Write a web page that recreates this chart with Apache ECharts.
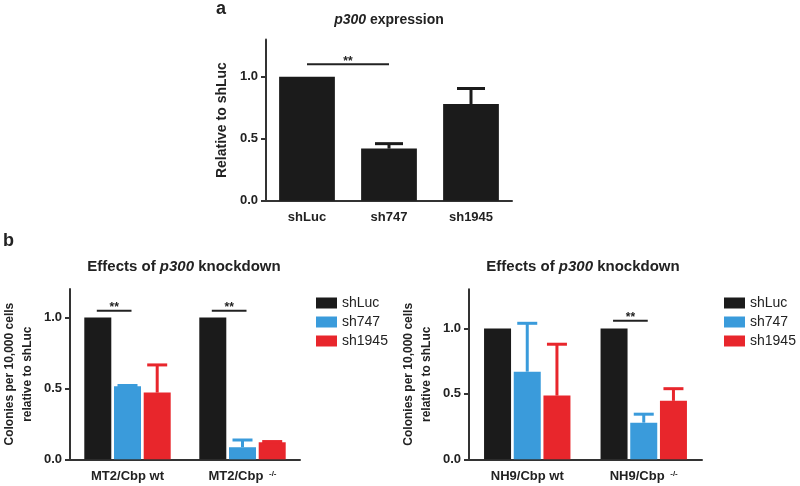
<!DOCTYPE html>
<html><head><meta charset="utf-8">
<script src="https://cdn.jsdelivr.net/npm/echarts@6/dist/echarts.min.js"></script>
<style>html,body{margin:0;padding:0;background:#fff}#c{width:800px;height:486px}</style>
</head><body><div id="c"></div>
<script>
// ---------- data ----------
const seriesNames = ['shLuc', 'sh747', 'sh1945'];

const aCategories = ['shLuc', 'sh747', 'sh1945'];
const aValues = [1.0, 0.42, 0.78];
const aErrTop = [null, 0.46, 0.905];
const aSig = [[0, 1, 1.1]];

const bLeftCategories = ['MT2/Cbp wt', 'MT2/Cbp -/-'];
const bLeftShLuc = [1.0, 1.0];
const bLeftSh747 = [0.515, 0.085];
const bLeftSh1945 = [0.47, 0.12];
const bLeftErr747 = [0.52, 0.136];
const bLeftErr1945 = [0.665, 0.125];
const bLeftSig = [[0, 1.047], [1, 1.047]];

const bRightCategories = ['NH9/Cbp wt', 'NH9/Cbp -/-'];
const bRightShLuc = [1.0, 1.0];
const bRightSh747 = [0.67, 0.28];
const bRightSh1945 = [0.487, 0.447];
const bRightErr747 = [1.04, 0.345];
const bRightErr1945 = [0.88, 0.54];
const bRightSig = [[1, 1.06]];

const yTicks = [0, 0.5, 1.0];

// ---------- styles ----------
const COLORS = ['#1b1b1b', '#3a9bdb', '#e8262c'];
const AX = '#333';
const FONT = '"Liberation Sans", Arial, Helvetica, sans-serif';
const B_BAR_W = 27;
const B_BAR_GAP = 0.1;

const chart = echarts.init(document.getElementById('c'));

function xAxisCfg(gridIndex, data) {
  return {
    type: 'category', gridIndex, data,
    axisLine: { lineStyle: { color: AX, width: 2 } },
    axisTick: { alignWithLabel: true, length: 5, lineStyle: { color: AX, width: 2 } },
    axisLabel: {
      interval: 0, hideOverlap: false,
      margin: 9, fontSize: 13, lineHeight: 16, fontWeight: 'bold', color: '#222', fontFamily: FONT,
      formatter: v => v.replace(' -/-', ' {sup|-/-}'),
      rich: { sup: { fontSize: 8, lineHeight: 9, fontWeight: 'bold', color: '#222', fontFamily: FONT, padding: [0, 0, 6, 2] } }
    }
  };
}
function yAxisCfg(gridIndex, max, name, nameGap, fontSize) {
  return {
    type: 'value', gridIndex, min: 0, max, interval: 0.5,
    splitLine: { show: false },
    axisLine: { show: true, lineStyle: { color: AX, width: 2 } },
    axisTick: { show: true, length: 5, customValues: yTicks, lineStyle: { color: AX, width: 2 } },
    axisLabel: { customValues: yTicks, margin: 8, fontSize: 13, fontWeight: 'bold', color: '#222', fontFamily: FONT,
      formatter: v => v.toFixed(1) },
    name, nameLocation: 'middle', nameGap,
    nameTextStyle: { fontSize, fontWeight: 'bold', color: '#222', fontFamily: FONT, lineHeight: 18, align: 'center' }
  };
}

function errSeriesA() {
  const data = [];
  aErrTop.forEach((t, i) => { if (t != null) data.push([i, aValues[i], t]); });
  return {
    type: 'custom', name: 'errA', xAxisIndex: 0, yAxisIndex: 0, z: 5,
    data,
    renderItem: (params, api) => {
      const p0 = api.coord([api.value(0), api.value(1)]);
      const p1 = api.coord([api.value(0), api.value(2)]);
      const hw = 14;
      const st = { stroke: COLORS[0], lineWidth: 3 };
      return { type: 'group', children: [
        { type: 'line', shape: { x1: p0[0], y1: p0[1], x2: p1[0], y2: p1[1] }, style: st },
        { type: 'line', shape: { x1: p1[0] - hw, y1: p1[1], x2: p1[0] + hw, y2: p1[1] }, style: st }
      ] };
    }
  };
}
function errSeriesB(axisIdx, vals, tops, k) {
  const data = tops.map((t, i) => [i, vals[i], t]);
  return {
    type: 'custom', name: 'err' + axisIdx + k, xAxisIndex: axisIdx, yAxisIndex: axisIdx, z: 5,
    data,
    renderItem: (params, api) => {
      const p0 = api.coord([api.value(0), api.value(1)]);
      const p1 = api.coord([api.value(0), api.value(2)]);
      const off = (k - 1) * B_BAR_W * (1 + B_BAR_GAP);
      const x = p0[0] + off;
      const hw = 10;
      const st = { stroke: COLORS[k], lineWidth: 3 };
      return { type: 'group', children: [
        { type: 'line', shape: { x1: x, y1: p0[1], x2: x, y2: p1[1] }, style: st },
        { type: 'line', shape: { x1: x - hw, y1: p1[1], x2: x + hw, y2: p1[1] }, style: st }
      ] };
    }
  };
}
function sigText(x, y) {
  return { type: 'text', x, y: y - 3, style: { text: '**', fontSize: 12, fontWeight: 'bold', fill: '#222', fontFamily: FONT, align: 'center', verticalAlign: 'middle' } };
}
function sigSeriesA() {
  return {
    type: 'custom', name: 'sigA', xAxisIndex: 0, yAxisIndex: 0, z: 6, data: aSig,
    renderItem: (params, api) => {
      const p0 = api.coord([api.value(0), api.value(2)]);
      const p1 = api.coord([api.value(1), api.value(2)]);
      return { type: 'group', children: [
        { type: 'line', shape: { x1: p0[0], y1: p0[1], x2: p1[0], y2: p1[1] }, style: { stroke: '#222', lineWidth: 2 } },
        sigText((p0[0] + p1[0]) / 2, p0[1])
      ] };
    }
  };
}
function sigSeriesB(axisIdx, data) {
  return {
    type: 'custom', name: 'sig' + axisIdx, xAxisIndex: axisIdx, yAxisIndex: axisIdx, z: 6, data,
    renderItem: (params, api) => {
      const c = api.coord([api.value(0), api.value(1)]);
      const step = B_BAR_W * (1 + B_BAR_GAP);
      const x1 = c[0] - step - 1, x2 = c[0] + 4;
      return { type: 'group', children: [
        { type: 'line', shape: { x1, y1: c[1], x2, y2: c[1] }, style: { stroke: '#222', lineWidth: 2 } },
        sigText((x1 + x2) / 2, c[1])
      ] };
    }
  };
}
function barsB(axisIdx, arrs) {
  return arrs.map((arr, k) => ({
    type: 'bar', name: seriesNames[k], xAxisIndex: axisIdx, yAxisIndex: axisIdx,
    data: arr, barWidth: B_BAR_W, barGap: (B_BAR_GAP * 100) + '%',
    itemStyle: { color: COLORS[k] }
  }));
}
function legendCfg(left) {
  return {
    data: seriesNames, orient: 'vertical', left, top: 296, icon: 'rect', padding: 0,
    itemWidth: 21, itemHeight: 11, itemGap: 5,
    textStyle: { fontSize: 14, color: '#222', fontFamily: FONT },
    selectedMode: false
  };
}

const italicRich = (size) => ({ i: { fontStyle: 'italic', fontWeight: 'bold', fontSize: size, fontFamily: FONT, fill: '#222' } });

const option = {
  animation: false,
  textStyle: { fontFamily: FONT },
  grid: [
    { left: 266, top: 39.5, width: 246, height: 161.2 },
    { left: 70, top: 289, width: 230, height: 170.3 },
    { left: 469, top: 289.3, width: 233, height: 170 }
  ],
  xAxis: [xAxisCfg(0, aCategories), xAxisCfg(1, bLeftCategories), xAxisCfg(2, bRightCategories)],
  yAxis: [
    yAxisCfg(0, 1.3, 'Relative to shLuc', 35, 14),
    yAxisCfg(1, 1.2, 'Colonies per 10,000 cells\nrelative to shLuc', 33, 12),
    yAxisCfg(2, 1.3, 'Colonies per 10,000 cells\nrelative to shLuc', 33, 12)
  ],
  legend: [legendCfg(316), legendCfg(724)],
  graphic: [
    { type: 'text', x: 216, y: 0, style: { text: 'a', fontSize: 18, fontWeight: 'bold', fill: '#222', fontFamily: FONT } },
    { type: 'text', x: 389, y: 20, style: { text: '{i|p300} expression', fontSize: 14, fontWeight: 'bold', fill: '#222', fontFamily: FONT, align: 'center', verticalAlign: 'middle', rich: italicRich(14) } },
    { type: 'text', x: 3, y: 232, style: { text: 'b', fontSize: 18, fontWeight: 'bold', fill: '#222', fontFamily: FONT } },
    { type: 'text', x: 184, y: 267, style: { text: 'Effects of {i|p300} knockdown', fontSize: 15, fontWeight: 'bold', fill: '#222', fontFamily: FONT, align: 'center', verticalAlign: 'middle', rich: italicRich(15) } },
    { type: 'text', x: 583, y: 267, style: { text: 'Effects of {i|p300} knockdown', fontSize: 15, fontWeight: 'bold', fill: '#222', fontFamily: FONT, align: 'center', verticalAlign: 'middle', rich: italicRich(15) } }
  ],
  series: [
    { type: 'bar', name: 'expression', xAxisIndex: 0, yAxisIndex: 0, data: aValues, barCategoryGap: '32%', itemStyle: { color: COLORS[0] } },
    errSeriesA(),
    sigSeriesA(),
    ...barsB(1, [bLeftShLuc, bLeftSh747, bLeftSh1945]),
    errSeriesB(1, bLeftSh747, bLeftErr747, 1),
    errSeriesB(1, bLeftSh1945, bLeftErr1945, 2),
    sigSeriesB(1, bLeftSig),
    ...barsB(2, [bRightShLuc, bRightSh747, bRightSh1945]),
    errSeriesB(2, bRightSh747, bRightErr747, 1),
    errSeriesB(2, bRightSh1945, bRightErr1945, 2),
    sigSeriesB(2, bRightSig)
  ]
};
chart.setOption(option);
</script>
</body></html>
